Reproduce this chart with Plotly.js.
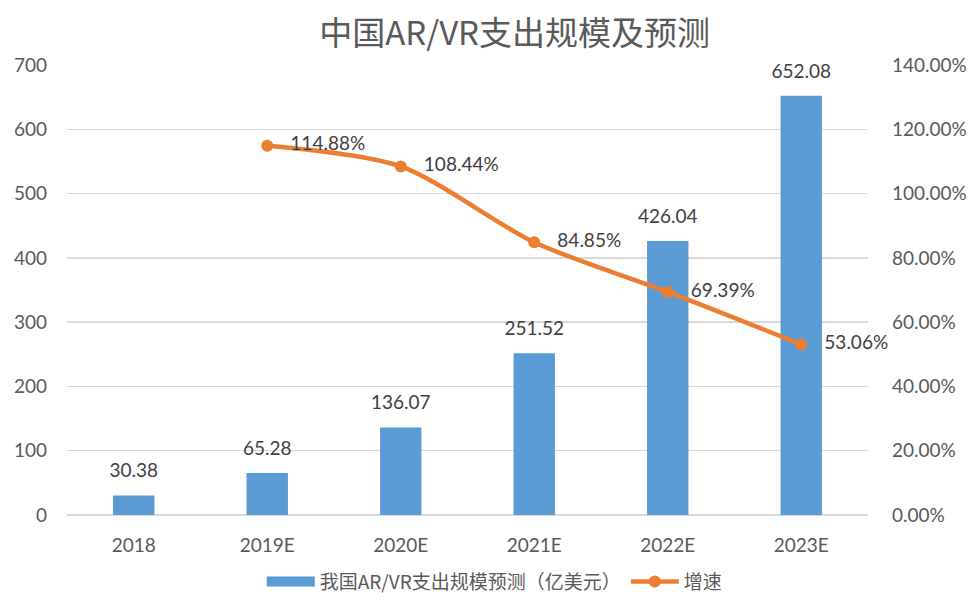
<!DOCTYPE html>
<html>
<head>
<meta charset="utf-8">
<script src="https://cdn.plot.ly/plotly-3.0.1.min.js"></script>
<style>html,body{margin:0;padding:0;background:#fff;}#chart{width:971px;height:600px;}</style>
</head>
<body>
<div id="chart"></div>
<script>
const categories = ["2018", "2019E", "2020E", "2021E", "2022E", "2023E"];
const spending = [30.38, 65.28, 136.07, 251.52, 426.04, 652.08];
const growth = [null, 1.1488, 1.0844, 0.8485, 0.6939, 0.5306];
const growthLabels = ["", "114.88%", "108.44%", "84.85%", "69.39%", "53.06%"];
const barName = "我国AR/VR支出规模预测（亿美元）";
const lineName = "增速";

const numFont = 'Lato, "Noto Sans CJK SC", sans-serif';
const cjkFont = '"Noto Sans CJK SC", sans-serif';
const pad = '\u00a0\u00a0\u00a0';

const data = [
  {
    type: 'bar', x: categories, y: spending, name: barName, showlegend: false,
    marker: {color: '#5B9BD5'}, width: 0.31, cliponaxis: false
  },
  {
    type: 'scatter', mode: 'markers+text', x: categories, y: spending, showlegend: false,
    marker: {size: 20, opacity: 0, color: '#fff'},
    text: spending.map(v => v.toFixed(2)), textposition: 'top center',
    textfont: {family: numFont, size: 19, color: '#404040'}, cliponaxis: false, hoverinfo: 'skip'
  },
  {
    type: 'scatter', mode: 'lines', x: [null], y: [null], name: barName,
    line: {color: '#5B9BD5', width: 10}, hoverinfo: 'skip'
  },
  {
    type: 'scatter', mode: 'lines+markers+text', x: categories, y: growth, name: lineName,
    yaxis: 'y2', line: {color: '#ED7D31', width: 4.5, shape: 'spline', smoothing: 0.8},
    marker: {color: '#ED7D31', size: 12},
    text: growthLabels.map(t => t ? pad + t : t), textposition: 'middle right',
    textfont: {family: numFont, size: 19, color: '#404040'},
    cliponaxis: false, connectgaps: false
  }
];

const layout = {
  width: 971, height: 600,
  margin: {l: 67, r: 103, t: 65, b: 85, autoexpand: false},
  paper_bgcolor: '#fff', plot_bgcolor: '#fff',
  title: {text: '中国AR/VR支出规模及预测', x: 0.53, xanchor: 'center', y: 0.945, yanchor: 'middle',
    font: {family: cjkFont, size: 33, color: '#595959'}},
  bargap: 0.69,
  xaxis: {type: 'category', tickfont: {family: numFont, size: 19, color: '#595959'},
    showgrid: false, showline: false, ticks: '', zeroline: false, ticklabelstandoff: 17},
  yaxis: {range: [0, 700], dtick: 100, tickfont: {family: numFont, size: 19, color: '#595959'},
    gridcolor: '#D9D9D9', gridwidth: 1.3, zeroline: true, zerolinecolor: '#D9D9D9', zerolinewidth: 1.3,
    ticks: '', ticklabelstandoff: 19},
  yaxis2: {range: [0, 1.4], dtick: 0.2, tickformat: '.2%', overlaying: 'y', side: 'right',
    tickfont: {family: numFont, size: 19, color: '#595959'}, showgrid: false, zeroline: false,
    ticks: '', ticklabelstandoff: 23},
  showlegend: true,
  legend: {orientation: 'h', x: 0.534, xanchor: 'center', y: -0.148, yanchor: 'middle',
    font: {family: cjkFont, size: 19, color: '#595959'}, traceorder: 'normal', itemwidth: 48}
};

Plotly.newPlot('chart', data, layout, {displayModeBar: false, staticPlot: true});
</script>
</body>
</html>
